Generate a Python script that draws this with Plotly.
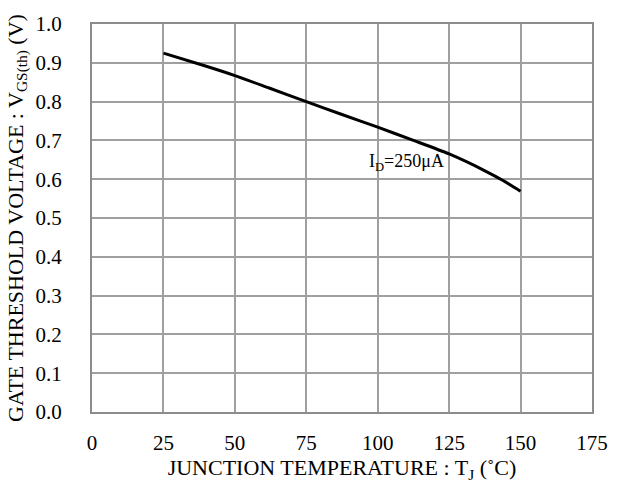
import plotly.graph_objects as go

temps = [25, 40, 50, 62, 75, 87, 100, 112.5, 125, 137.7, 144, 150]
vth = [0.925, 0.891, 0.867, 0.835, 0.800, 0.768, 0.734, 0.700, 0.665, 0.621, 0.596, 0.569]

x_ticks = [0, 25, 50, 75, 100, 125, 150, 175]
y_ticks = [0.0, 0.1, 0.2, 0.3, 0.4, 0.5, 0.6, 0.7, 0.8, 0.9, 1.0]
y_tick_text = [f"{v:.1f}" for v in y_ticks]

font_family = "Liberation Serif, Times New Roman, serif"

fig = go.Figure()
fig.add_trace(go.Scatter(
    x=temps, y=vth, mode="lines",
    line=dict(color="black", width=3, shape="spline", smoothing=0.6),
    showlegend=False, hoverinfo="skip",
))

fig.add_annotation(
    x=110, y=0.643, xref="x", yref="y",
    text="I<sub>D</sub>=250μA", showarrow=False,
    font=dict(family=font_family, size=18, color="black"),
)

fig.update_layout(
    width=620, height=485,
    margin=dict(l=92, r=18, t=13, b=67),
    paper_bgcolor="white", plot_bgcolor="white",
    font=dict(family=font_family, size=21, color="black"),
)

fig.update_xaxes(
    range=[0, 175], tickvals=x_ticks, ticktext=[str(v) for v in x_ticks],
    showgrid=True, gridcolor="#a0a0a0", gridwidth=1.5,
    showline=True, linecolor="#8c8c8c", linewidth=2, mirror=True,
    ticks="", ticklabelstandoff=11, zeroline=False,
    tickfont=dict(size=21),
    title=dict(text="JUNCTION TEMPERATURE : T<sub>J</sub> (˚C)", font=dict(size=22), standoff=2),
)
fig.update_yaxes(
    range=[0, 1.0], tickvals=y_ticks, ticktext=y_tick_text,
    showgrid=True, gridcolor="#a0a0a0", gridwidth=1.5,
    showline=True, linecolor="#8c8c8c", linewidth=2, mirror=True,
    ticks="", ticklabelstandoff=24, zeroline=False,
    tickfont=dict(size=21),
    title=dict(text="GATE THRESHOLD VOLTAGE : V<sub>GS(th)</sub> (V)", font=dict(size=22), standoff=6),
)

fig.write_html("out.html")
